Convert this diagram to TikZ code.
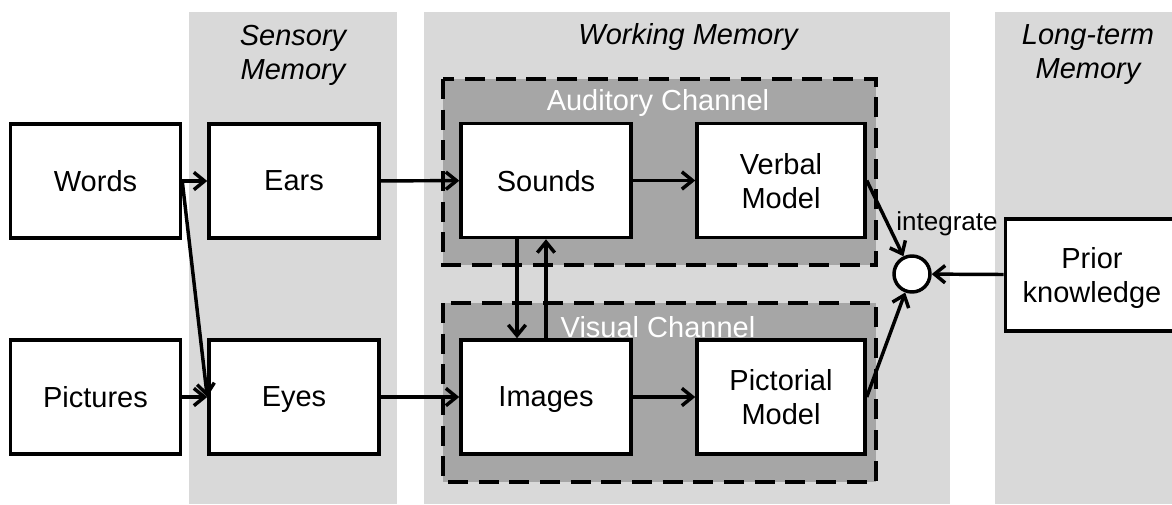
\documentclass[tikz,border=0pt]{standalone}
\usepackage{fontspec}
\setmainfont{Liberation Sans}
\usetikzlibrary{arrows.meta}
\definecolor{colgray}{HTML}{D9D9D9}
\definecolor{changray}{HTML}{A6A6A6}
\begin{document}
\begin{tikzpicture}[x=0.75pt,y=-0.75pt,
  txt/.style={font=\fontsize{21.75pt}{25.5pt}\selectfont},
  blk/.style={txt,draw,fill=white,line width=2.6pt,minimum width=127.5pt,
    minimum height=85.5pt,inner sep=0pt,align=center,text depth=0pt},
  hdr/.style={txt,font=\fontsize{21.75pt}{25.5pt}\selectfont\itshape,align=center},
  chlabel/.style={txt,text=white},
  chan/.style={fill=changray,draw=black,line width=3pt,dash pattern=on 15pt off 8pt},
  flow/.style={line width=2.6pt,-{Straight Barb[length=8pt,width=13pt]}}]
\useasboundingbox (0,0) rectangle (1172,504);

% memory stores
\fill[colgray] (189,12) rectangle (397,504);
\fill[colgray] (424,12) rectangle (950,504);
\fill[colgray] (995,12) rectangle (1172,504);
\node[hdr] (hsens) at (293,55) {Sensory\\Memory};
\node[hdr] (hwork) at (688,37) {Working Memory};
\node[hdr] (hlong) at (1088,55) {Long-term\\Memory};

% channels
\draw[chan] (443,79) rectangle (876,265);
\draw[chan] (443,303) rectangle (876,482);
\node[chlabel] (laud) at (658,103) {Auditory Channel};
\node[chlabel] (lvis) at (658,327) {Visual Channel};

% boxes
\node[blk] (words) at (95.5,181) {Words};
\node[blk] (pics) at (95.5,397) {Pictures};
\node[blk] (ears) at (294,181) {Ears};
\node[blk] (eyes) at (294,397) {Eyes};
\node[blk] (sounds) at (546,180.5) {Sounds};
\node[blk] (images) at (546,397) {Images};
\node[blk,minimum width=126pt] (verbal) at (781,180.5) {Verbal\\Model};
\node[blk,minimum width=126pt] (pict) at (781,397) {Pictorial\\Model};
\node[blk,minimum width=130pt,minimum height=84pt] (prior) at (1092,275) {Prior\\knowledge};

% integration point
\node[draw,fill=white,circle,line width=2.6pt,minimum size=27pt,inner sep=0pt] (integ) at (912,274) {};
\node[txt,font=\fontsize{19.5pt}{22pt}\selectfont] (ilabel) at (947,224) {integrate};

% connectors
\draw[flow] (words) -- (ears);
\draw[flow] (words.east) -- (eyes.west);
\draw[flow] (pics) -- (eyes);
\draw[flow] (ears) -- (sounds);
\draw[flow] (eyes) -- (images);
\draw[flow] (sounds) -- (verbal);
\draw[flow] (images) -- (pict);
\draw[flow] ([xshift=-21.75pt]sounds.south) -- ([xshift=-21.75pt]images.north);
\draw[flow] (images.north) -- (sounds.south);
\draw[flow] (verbal.east) -- (integ);
\draw[flow] (pict.east) -- (integ);
\draw[flow] (prior) -- (integ);
\end{tikzpicture}
\end{document}
